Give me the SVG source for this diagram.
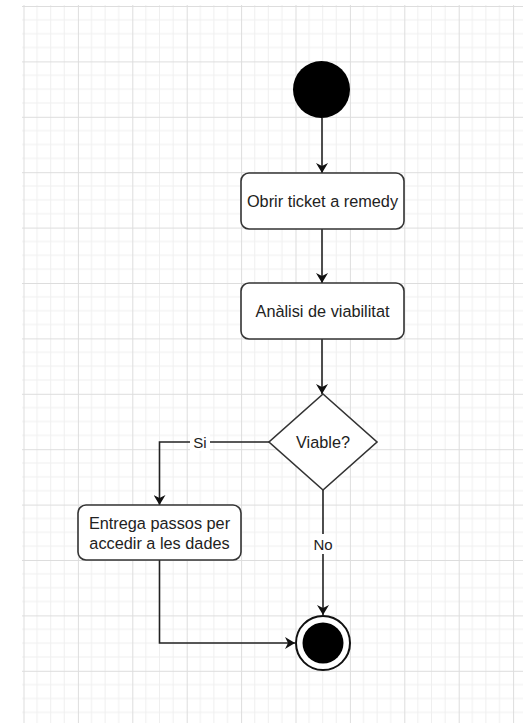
<svg xmlns="http://www.w3.org/2000/svg" width="532" height="723" viewBox="0 0 532 723">
  <defs>
    <pattern id="grid" patternUnits="userSpaceOnUse" x="23.5" y="6" width="54.4" height="55.4">
      <path d="M13.6 0V55.4M27.2 0V55.4M40.8 0V55.4M0 13.85H54.4M0 27.7H54.4M0 41.55H54.4" stroke="#efefef" stroke-width="1" fill="none"/>
      <path d="M0.5 0V55.4M0 0.5H54.4" stroke="#dddddd" stroke-width="1" fill="none"/>
    </pattern>
    <marker id="arr" viewBox="0 0 10 12" refX="10" refY="6" markerWidth="11" markerHeight="12" markerUnits="userSpaceOnUse" orient="auto">
      <path d="M0 0L10 6L0 12L3 6Z" fill="#111"/>
    </marker>
  </defs>
  <style>
    .node { fill: #ffffff; stroke: #333333; stroke-width: 1.6; }
    .lbl { font-family: "Liberation Sans", Arial, sans-serif; font-size: 16.3px; fill: #222222; text-anchor: middle; dominant-baseline: central; }
    .edge { fill: none; stroke: #222222; stroke-width: 1.6; marker-end: url(#arr); }
    .elbl { font-family: "Liberation Sans", Arial, sans-serif; font-size: 15px; fill: #222222; text-anchor: middle; dominant-baseline: central; }
  </style>
  <rect width="532" height="723" fill="#ffffff"/>
  <rect x="22" y="5" width="501" height="718" fill="url(#grid)"/>

  <g id="connectors">
    <path class="edge" d="M322 118V173"/>
    <path class="edge" d="M322 229V283"/>
    <path class="edge" d="M322 339V394"/>
    <path class="edge" d="M269 442H159.5V505"/>
    <path class="edge" d="M323 490V615"/>
    <path class="edge" d="M159.5 560V643H295"/>
    <rect x="190" y="433" width="20" height="18" fill="#ffffff"/>
    <text class="elbl" x="200" y="442">Si</text>
    <rect x="311" y="534" width="24" height="20" fill="#ffffff"/>
    <text class="elbl" x="323" y="544">No</text>
  </g>

  <g id="start">
    <circle cx="321.5" cy="89.5" r="28.5" fill="#000000"/>
  </g>

  <g id="obrir">
    <rect class="node" x="241" y="173" width="163" height="56" rx="8"/>
    <text class="lbl" x="322.5" y="201">Obrir ticket a remedy</text>
  </g>

  <g id="analisi">
    <rect class="node" x="241" y="283" width="163" height="56" rx="8"/>
    <text class="lbl" x="322.5" y="311">Anàlisi de viabilitat</text>
  </g>

  <g id="viable">
    <polygon class="node" points="323,394 377,442 323,490 269,442"/>
    <text class="lbl" x="323" y="442">Viable?</text>
  </g>

  <g id="entrega">
    <rect class="node" x="78" y="505" width="163" height="55" rx="8"/>
    <text class="lbl" x="159.5" y="523">Entrega passos per</text>
    <text class="lbl" x="159.5" y="543">accedir a les dades</text>
  </g>

  <g id="end">
    <circle cx="323" cy="643" r="27" fill="#ffffff" stroke="#111111" stroke-width="2"/>
    <circle cx="323" cy="643" r="20.5" fill="#000000"/>
  </g>
</svg>
